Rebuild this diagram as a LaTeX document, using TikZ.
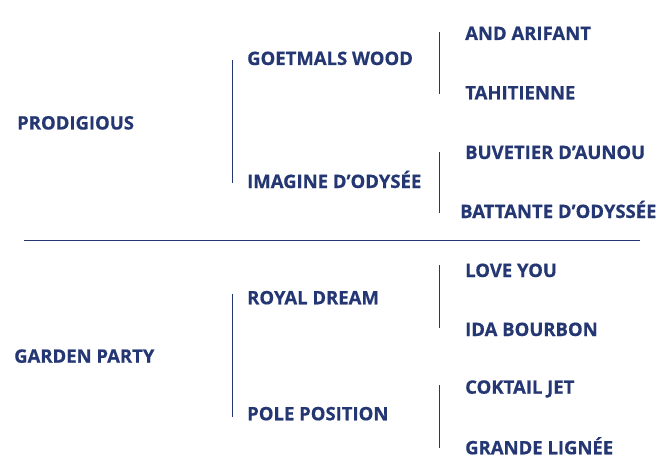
\documentclass[tikz,border=0pt]{standalone}
\usepackage{fontspec}
\setmainfont{Open Sans}[BoldFont={* Bold},BoldFeatures={FakeBold=0.6}]
\definecolor{navy}{RGB}{36,55,115}
\tikzset{
  lbl/.style={anchor=base west, inner sep=0pt, text=navy, font=\bfseries\fontsize{18.5}{18.5}\selectfont},
  rule/.style={draw=navy, line width=0.9pt}
}
\begin{document}
\begin{tikzpicture}[x=1pt,y=-1pt]
\useasboundingbox (0,0) rectangle (664,476);
% top section
\node[lbl] (prod) at (17,129.5) {PRODIGIOUS};
\node[lbl] (goet) at (247,65) {GOETMALS WOOD};
\node[lbl] (imag) at (247,188) {IMAGINE D’ODYSÉE};
\node[lbl] (andar) at (465,40) {AND ARIFANT};
\node[lbl] (tahi) at (465,99.3) {TAHITIENNE};
\node[lbl] (buve) at (465,159) {BUVETIER D’AUNOU};
\node[lbl] (batt) at (460,218) {BATTANTE D’ODYSSÉE};
% bottom section
\node[lbl] (gard) at (14,362.7) {GARDEN PARTY};
\node[lbl] (roya) at (247,304.3) {ROYAL DREAM};
\node[lbl] (pole) at (247,420.3) {POLE POSITION};
\node[lbl] (love) at (465,277) {LOVE YOU};
\node[lbl] (idab) at (465,336) {IDA BOURBON};
\node[lbl] (cokt) at (465,393.7) {COKTAIL JET};
\node[lbl] (gran) at (465,454.3) {GRANDE LIGNÉE};
% rules
\coordinate (a1) at (232,60);  \coordinate (a2) at (232,183);
\coordinate (b1) at (439,32);  \coordinate (b2) at (439,94);
\coordinate (c1) at (439,152); \coordinate (c2) at (439,213);
\coordinate (d1) at (232,294); \coordinate (d2) at (232,417);
\coordinate (e1) at (439,265); \coordinate (e2) at (439,328);
\coordinate (f1) at (439,385); \coordinate (f2) at (439,448);
\coordinate (h1) at (24,240);  \coordinate (h2) at (640,240);
\draw[rule] (a1) -- (a2);
\draw[rule] (b1) -- (b2);
\draw[rule] (c1) -- (c2);
\draw[rule] (d1) -- (d2);
\draw[rule] (e1) -- (e2);
\draw[rule] (f1) -- (f2);
\draw[rule] (h1) -- (h2);
\end{tikzpicture}
\end{document}
